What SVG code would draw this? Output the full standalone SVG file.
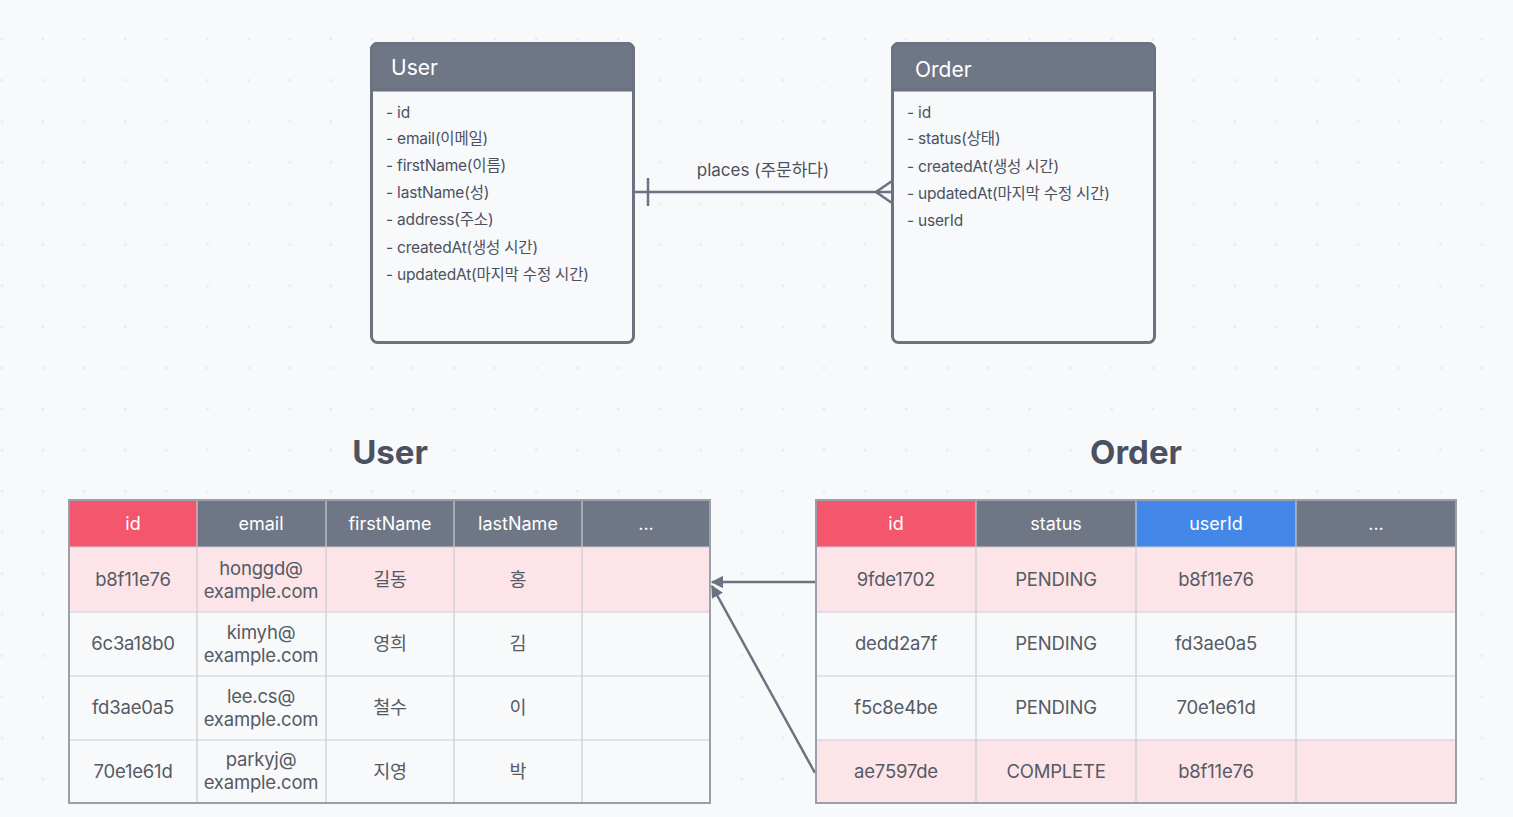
<svg xmlns="http://www.w3.org/2000/svg" width="1513" height="817" viewBox="0 0 1513 817">
<defs>
<pattern id="dots" x="2" y="-2" width="41.1" height="41.1" patternUnits="userSpaceOnUse">
<circle cx="0" cy="0" r="1.5" fill="#e8eaee"/>
<circle cx="41.1" cy="0" r="1.5" fill="#e8eaee"/>
<circle cx="0" cy="41.1" r="1.5" fill="#e8eaee"/>
<circle cx="41.1" cy="41.1" r="1.5" fill="#e8eaee"/>
</pattern>
<marker id="arr" viewBox="0 0 10 10" refX="9" refY="5" markerWidth="5" markerHeight="5" orient="auto-start-reverse">
<path d="M0,0 L10,5 L0,10 z" fill="#6b7280"/>
</marker>
<style>
text{font-family:Inter,"Noto Sans CJK KR",sans-serif;}
.ttl{font-size:21px;fill:#ffffff;}
.attr{font-size:15.5px;fill:#4b5160;letter-spacing:-0.2px;}
.big{font-size:33px;font-weight:700;fill:#4b5160;text-anchor:middle;}
.th{font-size:18px;fill:#ffffff;text-anchor:middle;}
.td{font-size:18.5px;fill:#555a63;text-anchor:middle;letter-spacing:-0.2px;}
.grid{stroke:#c9cdd4;stroke-width:1.2;fill:none;}
.outer{stroke:#9aa0aa;stroke-width:2;fill:none;}
.conn{stroke:#6b7280;stroke-width:2.5;fill:none;}
</style>
</defs>
<rect width="1513" height="817" fill="#f8f9fb"/>
<rect width="1513" height="817" fill="url(#dots)"/>

<g id="erd-user">
<rect x="371.5" y="43.5" width="262" height="299" rx="6" fill="#f8f9fb" stroke="#6b7280" stroke-width="3"/>
<path d="M371.5,90 V49.5 a6,6 0 0 1 6,-6 H627.5 a6,6 0 0 1 6,6 V90 z" fill="#6f7686" stroke="#6b7280" stroke-width="3"/>
<text class="ttl" x="391" y="75">User</text>
<text class="attr" x="386" y="118">- id</text>
<text class="attr" x="386" y="144">- email(이메일)</text>
<text class="attr" x="386" y="171">- firstName(이름)</text>
<text class="attr" x="386" y="198">- lastName(성)</text>
<text class="attr" x="386" y="225">- address(주소)</text>
<text class="attr" x="386" y="253">- createdAt(생성 시간)</text>
<text class="attr" x="386" y="280">- updatedAt(마지막 수정 시간)</text>
</g>

<g id="erd-order">
<rect x="892.5" y="43.5" width="262" height="299" rx="6" fill="#f8f9fb" stroke="#6b7280" stroke-width="3"/>
<path d="M892.5,90 V49.5 a6,6 0 0 1 6,-6 H1148.5 a6,6 0 0 1 6,6 V90 z" fill="#6f7686" stroke="#6b7280" stroke-width="3"/>
<text class="ttl" x="915" y="77">Order</text>
<text class="attr" x="907" y="118">- id</text>
<text class="attr" x="907" y="144">- status(상태)</text>
<text class="attr" x="907" y="172">- createdAt(생성 시간)</text>
<text class="attr" x="907" y="199">- updatedAt(마지막 수정 시간)</text>
<text class="attr" x="907" y="226">- userId</text>
</g>

<g id="connectors">
<line class="conn" x1="634" y1="192" x2="892" y2="192"/>
<line class="conn" x1="648" y1="178" x2="648" y2="206"/>
<polyline class="conn" points="892,181 876,192 892,203"/>
<text x="763" y="176" style="font-size:17px;fill:#4b5160;text-anchor:middle;">places (주문하다)</text>
<line class="conn" x1="816" y1="582" x2="712" y2="582" marker-end="url(#arr)"/>
<line class="conn" x1="815" y1="773" x2="712" y2="586" marker-end="url(#arr)"/>
</g>

<text class="big" x="390" y="464">User</text>
<text class="big" x="1136" y="464">Order</text>

<g id="table-user">
<rect x="69" y="547" width="641" height="65" fill="#fce4e8"/>
<rect x="69" y="612" width="641" height="191" fill="#f8f9fb"/>
<rect x="69" y="500" width="128" height="47" fill="#f4566e"/>
<rect x="197" y="500" width="513" height="47" fill="#6f7686"/>
<path class="grid" d="M197,500V803 M326,500V803 M454,500V803 M582,500V803 M69,547H710 M69,612H710 M69,676H710 M69,740H710"/>
<rect class="outer" x="69" y="500" width="641" height="303"/>
<text class="th" x="133" y="530">id</text>
<text class="th" x="261" y="530">email</text>
<text class="th" x="390" y="530">firstName</text>
<text class="th" x="518" y="530">lastName</text>
<text class="th" x="646" y="530">...</text>
<text class="td" x="133" y="586">b8f11e76</text>
<text class="td" x="261" y="575">honggd@</text>
<text class="td" x="261" y="598">example.com</text>
<text class="td" x="390" y="586">길동</text>
<text class="td" x="518" y="586">홍</text>
<text class="td" x="133" y="650">6c3a18b0</text>
<text class="td" x="261" y="639">kimyh@</text>
<text class="td" x="261" y="662">example.com</text>
<text class="td" x="390" y="650">영희</text>
<text class="td" x="518" y="650">김</text>
<text class="td" x="133" y="714">fd3ae0a5</text>
<text class="td" x="261" y="703">lee.cs@</text>
<text class="td" x="261" y="726">example.com</text>
<text class="td" x="390" y="714">철수</text>
<text class="td" x="518" y="714">이</text>
<text class="td" x="133" y="778">70e1e61d</text>
<text class="td" x="261" y="766">parkyj@</text>
<text class="td" x="261" y="789">example.com</text>
<text class="td" x="390" y="778">지영</text>
<text class="td" x="518" y="778">박</text>
</g>

<g id="table-order">
<rect x="816" y="547" width="640" height="65" fill="#fce4e8"/>
<rect x="816" y="612" width="640" height="128" fill="#f8f9fb"/>
<rect x="816" y="740" width="640" height="63" fill="#fce4e8"/>
<rect x="816" y="500" width="160" height="47" fill="#f4566e"/>
<rect x="976" y="500" width="160" height="47" fill="#6f7686"/>
<rect x="1136" y="500" width="160" height="47" fill="#4388e9"/>
<rect x="1296" y="500" width="160" height="47" fill="#6f7686"/>
<path class="grid" d="M976,500V803 M1136,500V803 M1296,500V803 M816,547H1456 M816,612H1456 M816,676H1456 M816,740H1456"/>
<rect class="outer" x="816" y="500" width="640" height="303"/>
<text class="th" x="896" y="530">id</text>
<text class="th" x="1056" y="530">status</text>
<text class="th" x="1216" y="530">userId</text>
<text class="th" x="1376" y="530">...</text>
<text class="td" x="896" y="586">9fde1702</text>
<text class="td" x="1056" y="586">PENDING</text>
<text class="td" x="1216" y="586">b8f11e76</text>
<text class="td" x="896" y="650">dedd2a7f</text>
<text class="td" x="1056" y="650">PENDING</text>
<text class="td" x="1216" y="650">fd3ae0a5</text>
<text class="td" x="896" y="714">f5c8e4be</text>
<text class="td" x="1056" y="714">PENDING</text>
<text class="td" x="1216" y="714">70e1e61d</text>
<text class="td" x="896" y="778">ae7597de</text>
<text class="td" x="1056" y="778">COMPLETE</text>
<text class="td" x="1216" y="778">b8f11e76</text>
</g>
</svg>
